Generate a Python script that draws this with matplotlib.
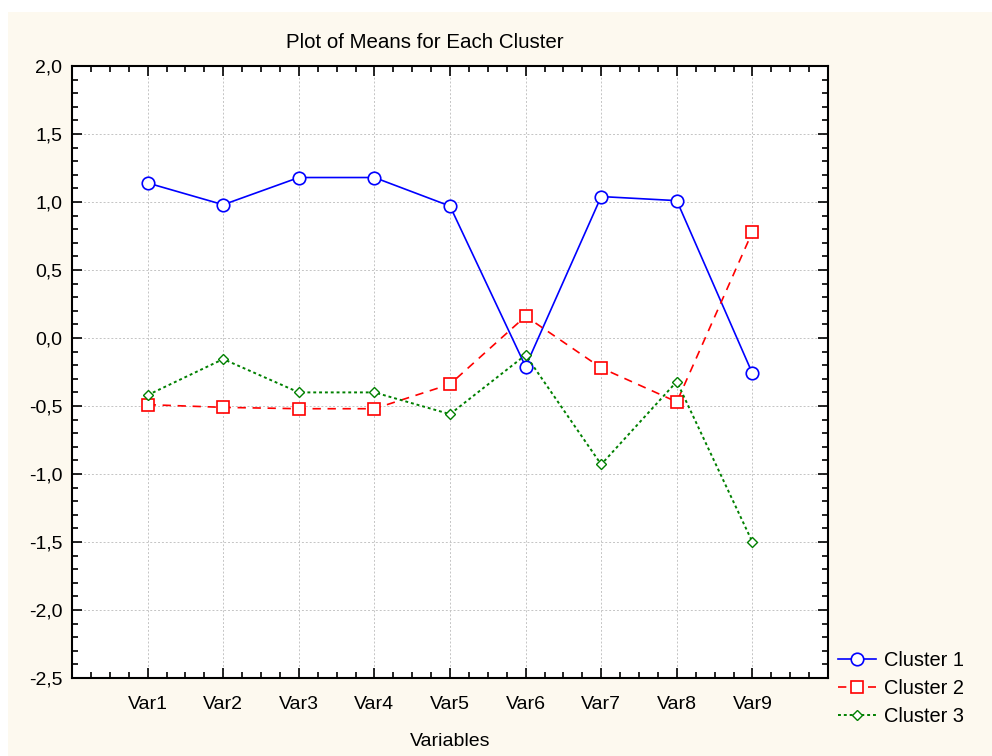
import matplotlib.pyplot as plt
from matplotlib.patches import Rectangle
from matplotlib.ticker import MultipleLocator, FuncFormatter

variables = ['Var1', 'Var2', 'Var3', 'Var4', 'Var5', 'Var6', 'Var7', 'Var8', 'Var9']
cluster1 = [1.14, 0.98, 1.18, 1.18, 0.97, -0.21, 1.04, 1.01, -0.26]
cluster2 = [-0.49, -0.51, -0.52, -0.52, -0.34, 0.16, -0.22, -0.47, 0.78]
cluster3 = [-0.42, -0.155, -0.40, -0.40, -0.56, -0.125, -0.93, -0.32, -1.50]

plt.rcParams['font.family'] = ['Liberation Sans', 'DejaVu Sans']
fs = 14

fig = plt.figure(figsize=(9.92, 7.56), dpi=100)
fig.patch.set_facecolor('white')
# fondo crema
fig.patches.append(Rectangle((8 / 992, 0), 1, 1 - 12 / 756, transform=fig.transFigure,
                             facecolor='#fdf9ef', edgecolor='none', zorder=-10))

ax = fig.add_axes([72 / 992, 1 - 678 / 756, (828 - 72) / 992, (678 - 66) / 756])
ax.set_facecolor('white')

x = list(range(1, len(variables) + 1))
ax.plot(x, cluster1, color='#0000ff', linestyle='-', linewidth=1.2, marker='o',
        markersize=9, markerfacecolor='white', markeredgewidth=1.2, label='Cluster 1', zorder=3)
ax.plot(x, cluster2, color='#ff0000', linestyle=(0, (5, 4)), linewidth=1.2, marker='s',
        markersize=9, markerfacecolor='white', markeredgewidth=1.2, label='Cluster 2', zorder=3)
ax.plot(x, cluster3, color='#008000', linestyle=(0, (1.5, 1.5)), linewidth=1.4, marker='D',
        markersize=5, markerfacecolor='white', markeredgewidth=1.0, label='Cluster 3', zorder=3)

ax.set_xlim(0, 10)
ax.set_ylim(-2.5, 2.0)
ax.set_xticks(x)
ax.set_xticklabels(variables)
ax.xaxis.set_minor_locator(MultipleLocator(0.25))
ax.yaxis.set_major_locator(MultipleLocator(0.5))
ax.yaxis.set_minor_locator(MultipleLocator(0.1))
ax.yaxis.set_major_formatter(FuncFormatter(lambda v, p: f'{v:.1f}'.replace('.', ',')))

ax.tick_params(which='both', direction='in', top=True, right=True, labelsize=fs, width=1.2)
ax.tick_params(which='major', length=7, pad=7)
ax.tick_params(axis='x', which='major', pad=13)
ax.tick_params(which='minor', length=4)
for s in ax.spines.values():
    s.set_linewidth(1.5)

ax.grid(True, which='major', color='#c4c4c4', linestyle=(0, (2, 2)), linewidth=0.7)
ax.set_axisbelow(True)

fig.text(425 / 992, 1 - 42 / 756, 'Plot of Means for Each Cluster', ha='center', va='center', fontsize=14.8)
fig.text(450 / 992, 1 - 742 / 756, 'Variables', ha='center', va='center', fontsize=fs)

ax.legend(loc='center left', bbox_to_anchor=(838 / 992, 1 - 688 / 756), bbox_transform=fig.transFigure,
          frameon=False, fontsize=14.4, handlelength=1.9, handletextpad=0.4, labelspacing=0.45,
          borderaxespad=0, borderpad=0)

fig.savefig('out.png', dpi=100, facecolor=fig.get_facecolor())
plt.close(fig)
